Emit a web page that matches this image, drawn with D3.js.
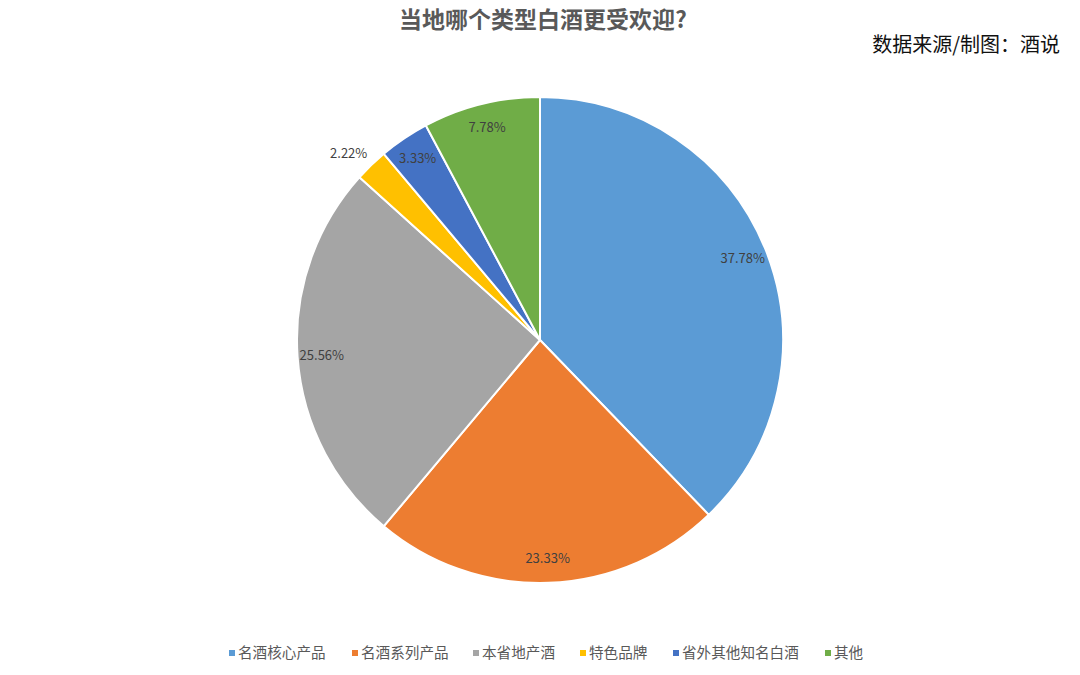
<!DOCTYPE html>
<html><head><meta charset="utf-8">
<script src="https://cdn.jsdelivr.net/npm/d3@7"></script>
<style>body{margin:0;background:#fff}svg{display:block}</style>
</head><body>
<svg id="c" width="1080" height="675"></svg>
<script>
const categories = ["名酒核心产品","名酒系列产品","本省地产酒","特色品牌","省外其他知名白酒","其他"];
const values = [37.78, 23.33, 25.56, 2.22, 3.33, 7.78];
const labels = ["37.78%","23.33%","25.56%","2.22%","3.33%","7.78%"];
const colors = ["#5B9BD5","#ED7D31","#A5A5A5","#FFC000","#4472C4","#70AD47"];

const svg = d3.select("#c");
const font = "'Noto Sans CJK SC','Noto Sans',sans-serif";
const cx = 540, cy = 340, r = 243;

svg.append("text").attr("x",543).attr("y",28).attr("text-anchor","middle")
  .attr("font-family",font).attr("font-size",23).attr("font-weight","bold")
  .attr("fill","#595959").text("当地哪个类型白酒更受欢迎?");
svg.append("text").attr("x",1060).attr("y",52).attr("text-anchor","end")
  .attr("font-family",font).attr("font-size",20).attr("fill","#111")
  .text("数据来源/制图：酒说");

const pie = d3.pie().sort(null).value(d=>d)(values);
const arc = d3.arc().innerRadius(0).outerRadius(r);
const g = svg.append("g").attr("transform",`translate(${cx},${cy})`);
g.selectAll("path").data(pie).join("path")
  .attr("d",arc).attr("fill",(d,i)=>colors[i])
  .attr("stroke","#fff").attr("stroke-width",2).attr("stroke-linejoin","round");

g.selectAll("text.lbl").data(pie).join("text").attr("class","lbl")
  .attr("transform",d=>{
    const a=(d.startAngle+d.endAngle)/2 - (d.value<3?0.03:0);
    const f = (d.value<3)?1.1:0.9;
    return `translate(${Math.sin(a)*r*f},${-Math.cos(a)*r*f})`;
  })
  .attr("text-anchor","middle").attr("dy","0.35em")
  .attr("font-family",font).attr("font-size",13).attr("fill","#404040")
  .text((d,i)=>labels[i]);

// legend
const legX = [229,352,473,580,673,825];
const lg = svg.append("g");
categories.forEach((c,i)=>{
  lg.append("rect").attr("x",legX[i]).attr("y",650).attr("width",6).attr("height",6).attr("fill",colors[i]);
  lg.append("text").attr("x",legX[i]+9).attr("y",653).attr("dy","0.35em")
    .attr("font-family",font).attr("font-size",14.6).attr("fill","#595959").text(c);
});
</script>
</body></html>
